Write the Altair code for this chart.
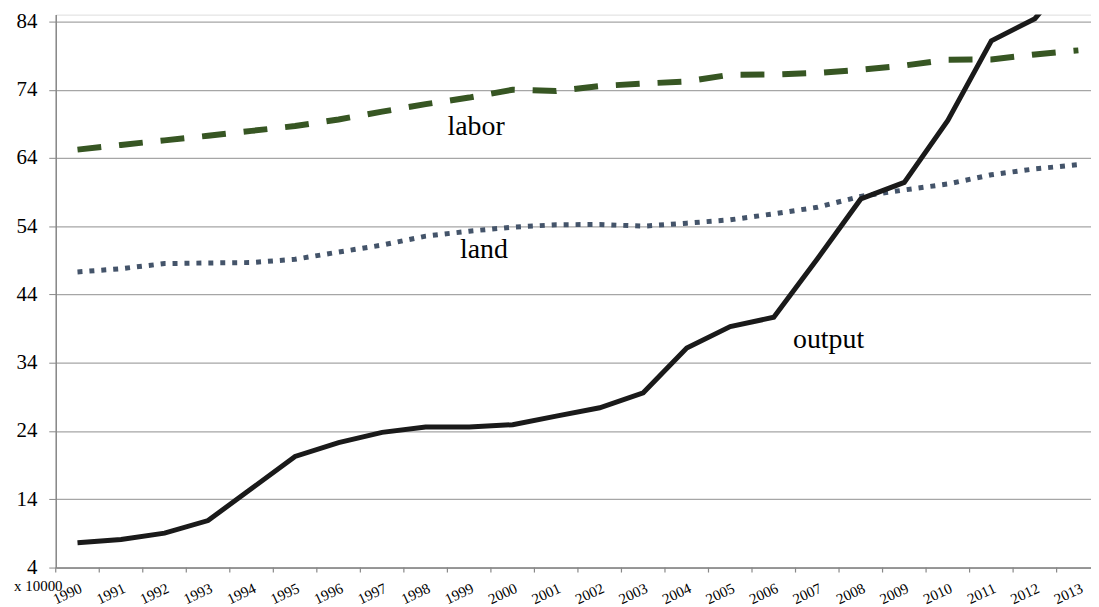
import altair as alt
import pandas as pd

years = list(range(1990, 2014))
output = [7.64, 8.12, 9.05, 10.89, 15.58, 20.27, 22.31, 23.81, 24.58, 24.58, 24.93, 26.19,
          27.41, 29.6, 36.15, 39.3, 40.67, 49.2, 58.0, 60.42, 69.51, 81.17, 84.4, 92.0]
labor = [65.22, 65.91, 66.58, 67.26, 67.97, 68.68, 69.64, 70.79, 71.89, 72.85, 74.0, 73.81,
         74.54, 74.9, 75.21, 76.19, 76.22, 76.46, 76.93, 77.54, 78.4, 78.44, 79.17, 79.76]
land = [47.31, 47.78, 48.53, 48.62, 48.68, 49.16, 50.22, 51.24, 52.55, 53.28, 53.87, 54.22,
        54.26, 54.01, 54.45, 54.94, 55.82, 56.78, 58.38, 59.32, 60.19, 61.54, 62.4, 63.02]

y_ticks = [4, 14, 24, 34, 44, 54, 64, 74, 84]
x_tick_marks = [y + 0.5 for y in range(1989, 2013)]

label_names = ["labor", "land", "output"]
label_x = [1999.16, 1999.34, 2007.26]
label_y = [67.37, 49.31, 36.2]

df = pd.DataFrame({
    "year": years * 3,
    "value": output + labor + land,
    "series": ["output"] * 24 + ["labor"] * 24 + ["land"] * 24,
})
lab_df = pd.DataFrame({"name": label_names, "year": label_x, "value": label_y})
tick_df = pd.DataFrame({"year": x_tick_marks})

FONT = "Liberation Serif"
W, H = 1041, 556

x_scale = alt.Scale(domain=[1989.5, 2013.29], nice=False, zero=False)
y_scale = alt.Scale(domain=[4, 85], nice=False, zero=False)

x_axis = alt.Axis(
    values=years, format="d", ticks=False,
    grid=False, title=None, labelAngle=-25, labelAlign="right", labelBaseline="top",
    labelFont=FONT, labelFontSize=15, labelColor="#000000", labelPadding=13,
    labelOverlap=False, labelFlush=False, labelBound=False,
    domainColor="#888888", domainWidth=1.5,
)
y_axis = alt.Axis(
    values=y_ticks, grid=True, gridColor="#a6a6a6", gridWidth=1.2,
    domainColor="#888888", domainWidth=1.5, tickColor="#888888", tickSize=7,
    labelFont=FONT, labelFontSize=21, labelColor="#000000", labelPadding=12,
    title="x 10000", titleAngle=0, titleFont=FONT, titleFontSize=15, titleFontWeight="normal",
    titleColor="#000000", titleX=-18, titleY=574, titleAlign="center", titleBaseline="middle",
)

base = alt.Chart(df).encode(
    x=alt.X("year:Q", scale=x_scale, axis=x_axis),
    y=alt.Y("value:Q", scale=y_scale, axis=y_axis),
)

out_line = base.transform_filter("datum.series === 'output'").mark_line(
    color="#1a1a1a", strokeWidth=5, clip=True, strokeJoin="miter")
labor_line = base.transform_filter("datum.series === 'labor'").mark_line(
    color="#375623", strokeWidth=6, strokeDash=[24, 18], strokeCap="butt", clip=True)
land_line = base.transform_filter("datum.series === 'land'").mark_line(
    color="#44546a", strokeWidth=5, strokeDash=[5, 7], strokeCap="butt", clip=True)

ticks = alt.Chart(tick_df).mark_rule(color="#888888", strokeWidth=1.2).encode(
    x=alt.X("year:Q", scale=x_scale),
    y=alt.value(H),
    y2=alt.value(H + 5),
)

labels = alt.Chart(lab_df).mark_text(
    font=FONT, fontSize=28, color="#000000", align="center", baseline="alphabetic"
).encode(
    x=alt.X("year:Q", scale=x_scale),
    y=alt.Y("value:Q", scale=y_scale),
    text="name:N",
)

chart = alt.layer(land_line, labor_line, out_line, ticks, labels).properties(
    width=W, height=H,
    autosize=alt.AutoSizeParams(type="none"),
    padding={"left": 48, "top": 5, "right": 0, "bottom": 38},
).configure_view(stroke=None).configure(background="#ffffff")

chart.save("out.html", embed_options={"renderer": "svg", "actions": False})
